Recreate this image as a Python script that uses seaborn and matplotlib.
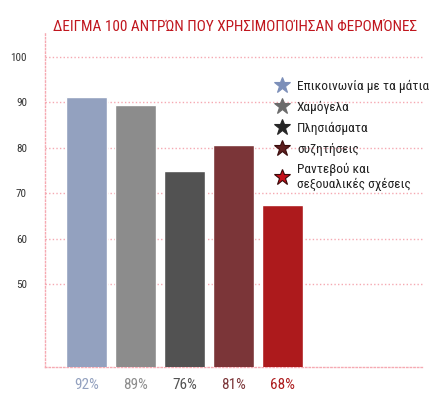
import matplotlib
matplotlib.use("Agg")
import matplotlib.pyplot as plt
from matplotlib.lines import Line2D
import seaborn as sns
import pandas as pd

# Data
categories = ["Επικοινωνία με τα μάτια", "Χαμόγελα", "Πλησιάσματα", "συζητήσεις",
              "Ραντεβού και\nσεξουαλικές σχέσεις"]
values = [91.1, 89.4, 74.9, 80.6, 67.4]
pct_labels = ["92%", "89%", "76%", "81%", "68%"]
yticks = [50, 60, 70, 80, 90, 100]
title = "ΔΕΙΓΜΑ 100 ΑΝΤΡΏΝ ΠΟΥ ΧΡΗΣΙΜΟΠΟΊΗΣΑΝ ΦΕΡΟΜΌΝΕΣ"

bar_colors = ["#93a1bf", "#8c8c8c", "#525252", "#7b3538", "#ad1a1c"]
star_colors = ["#7c8fb9", "#6b6b6b", "#262626", "#5e1e1e", "#c4101a"]
star_edges = ["#7c8fb9", "#6b6b6b", "#262626", "#3a0c0c", "#3a0808"]

sns.set_theme(style="white")
FONT = ["Roboto Condensed", "DejaVu Sans"]
plt.rcParams["font.family"] = FONT

fig = plt.figure(figsize=(4.36, 3.99), dpi=100)
ax = fig.add_axes([45 / 436, 1 - 367 / 399, (423 - 45) / 436, (367 - 33) / 399])

df = pd.DataFrame({"cat": categories, "val": values})
sns.barplot(data=df, x="cat", y="val", hue="cat", palette=bar_colors,
            legend=False, width=0.84, ax=ax, saturation=1, zorder=3)

ax.set_xlim(-0.847, 6.87)
ax.set_ylim(31.8, 105.2)
ax.set_yticks(yticks)
ax.set_yticklabels([str(t) for t in yticks], fontsize=8, color="#333333")
ax.set_xticks(range(len(categories)))
ax.set_xticklabels(pct_labels, fontsize=11)
for lbl, c in zip(ax.get_xticklabels(), bar_colors):
    lbl.set_color(c)
ax.tick_params(axis="y", length=0, pad=13)
ax.tick_params(axis="x", length=0, pad=8)
ax.set_xlabel("")
ax.set_ylabel("")

grid_c = "#f5a9b2"
dash = (0, (1.0, 1.6))
ax.yaxis.grid(True, color=grid_c, linestyle=dash, linewidth=1.0, zorder=0)
ax.xaxis.grid(False)
for s in ["top", "right"]:
    ax.spines[s].set_visible(False)
for s in ["left", "bottom"]:
    ax.spines[s].set_color(grid_c)
    ax.spines[s].set_linestyle(dash)
    ax.spines[s].set_linewidth(1.0)

fig.text(235.5 / 436, 1 - 27 / 399, title, ha="center", va="center",
         fontsize=11, color="#c0161e")

handles = [Line2D([0], [0], marker="*", linestyle="none", markersize=12,
                  markerfacecolor=fc, markeredgecolor=ec, markeredgewidth=0.8)
           for fc, ec in zip(star_colors, star_edges)]
leg = ax.legend(handles, categories, loc="upper left",
                bbox_to_anchor=(275 / 436, 1 - 80 / 399), bbox_transform=fig.transFigure,
                frameon=False, fontsize=9.6, handlelength=1.05, handletextpad=0.6,
                labelspacing=0.58, borderaxespad=0, borderpad=0)
for t in leg.get_texts():
    t.set_color("#222222")
    t.set_linespacing(1.1)

fig.savefig("out.png", dpi=100)
